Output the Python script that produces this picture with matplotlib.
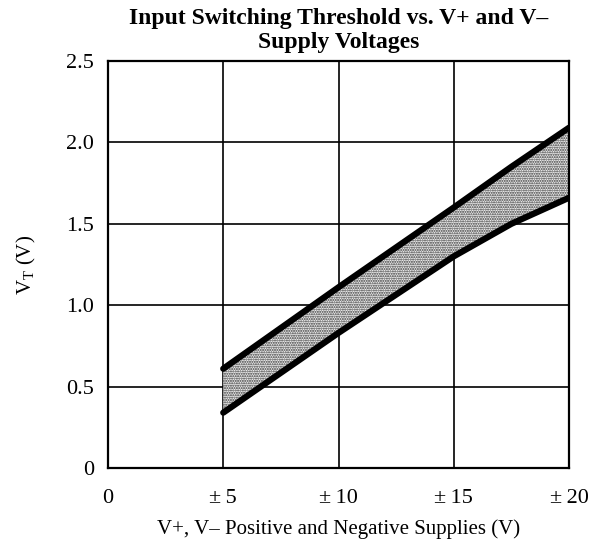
import matplotlib
matplotlib.use("Agg")
import matplotlib.pyplot as plt

plt.rcParams['font.family'] = ['Liberation Serif', 'DejaVu Serif']
plt.rcParams['mathtext.fontset'] = 'custom'
plt.rcParams['mathtext.rm'] = 'Liberation Serif'
plt.rcParams['hatch.linewidth'] = 1.0

# datos
supply = [5, 10, 15, 17.5, 20]
vt_max = [0.61, 1.11, 1.60, 1.85, 2.09]
vt_min = [0.34, 0.83, 1.30, 1.50, 1.66]

xticks = [0, 5, 10, 15, 20]
xlabels = ['0', '±\u20095', '±\u200910', '±\u200915', '±\u200920']
yticks = [0, 0.5, 1.0, 1.5, 2.0, 2.5]
ylabels = ['0', '0.5', '1.0', '1.5', '2.0', '2.5']

fig = plt.figure(figsize=(5.93, 5.42), dpi=100)
ax = fig.add_axes([108/593, 1-468/542, 461/593, 407/542])

ax.fill_between(supply, vt_min, vt_max, facecolor='#f0f0f0', edgecolor='#333333',
                hatch='.......', linewidth=0, zorder=2)
ax.plot(supply, vt_max, color='black', linewidth=4.5, solid_capstyle='round', zorder=4)
ax.plot(supply, vt_min, color='black', linewidth=4.5, solid_capstyle='round', zorder=4)

ax.set_xlim(0, 20)
ax.set_ylim(0, 2.5)
ax.set_xticks(xticks)
ax.set_xticklabels(xlabels, fontsize=16)
ax.set_yticks(yticks)
ax.set_yticklabels(ylabels, fontsize=16)
ax.tick_params(length=0)
ax.tick_params(axis='x', pad=15)
ax.tick_params(axis='y', pad=10)
ax.grid(color='black', linewidth=1.2, zorder=1)
ax.set_axisbelow(True)
for s in ax.spines.values():
    s.set_linewidth(1.6)
    s.set_zorder(5)

ax.set_title('Input Switching Threshold vs. V+ and V\u2013\nSupply Voltages',
             fontsize=17, fontweight='bold', linespacing=1.2, pad=9)
ax.set_xlabel('V+, V\u2013 Positive and Negative Supplies (V)', fontsize=15, labelpad=8)
ax.set_ylabel(r'V$_{\mathrm{T}}$ (V)', fontsize=15, labelpad=20)

fig.savefig('out.png', dpi=100)
